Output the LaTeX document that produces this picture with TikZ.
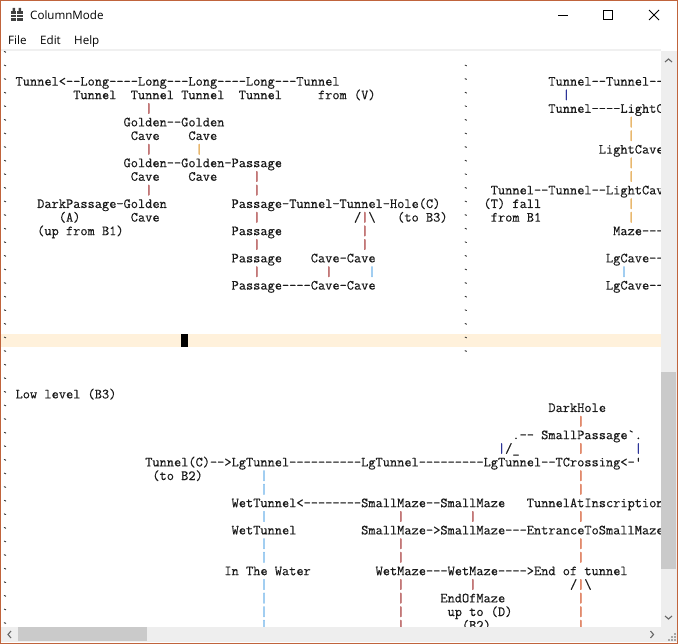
\documentclass[tikz,border=0pt]{standalone}
\usepackage{fontspec}
\newfontfamily\uifont{Open Sans}
\newfontfamily\codefont{Latin Modern Mono}[FakeBold=0.3]
\usetikzlibrary{positioning}
\definecolor{frame}{HTML}{C0643C}
\definecolor{barbg}{HTML}{EEEEEE}
\definecolor{thumb}{HTML}{CACACA}
\definecolor{curline}{HTML}{FFF1DB}
\definecolor{inkdark}{HTML}{1A1A1A}
\definecolor{barred}{HTML}{A83C3C}
\definecolor{barorange}{HTML}{E09A30}
\definecolor{barcoral}{HTML}{D5582E}
\definecolor{barblue}{HTML}{2C90E0}
\definecolor{barnavy}{HTML}{2C3498}
\tikzstyle{txt} = [anchor=base west, inner sep=0pt, outer sep=0pt, text=inkdark, font=\codefont\fontsize{13.98}{13.6}\selectfont]
\tikzstyle{bar} = [txt]
\tikzstyle{tick} = [txt, text=black!80, xshift=1.2pt, yshift=1pt, font=\codefont\fontsize{10}{13.6}\selectfont]
\tikzstyle{menu} = [anchor=base west, inner sep=0pt, text=black, font=\uifont\fontsize{11.6}{14}\selectfont]
\begin{document}
\begin{tikzpicture}
    \useasboundingbox (0pt,0pt) rectangle (678pt,-644pt);
    \fill[white] (0pt,0pt) rectangle (678pt,-644pt);

    % Title bar and menu
    \node (title) [menu] at (30pt,-20pt) {ColumnMode};
    \node (mfile) [menu] at (8pt,-45pt) {File};
    \node (medit) [menu] at (40pt,-45pt) {Edit};
    \node (mhelp) [menu] at (74pt,-45pt) {Help};
    \fill[black!75] (11pt,-11pt) rectangle (22.5pt,-21pt);
    \fill[black!75] (12.5pt,-8pt) rectangle (15pt,-11pt) (18.5pt,-8pt) rectangle (21pt,-11pt);
    \draw[white, line width=0.8pt] (11pt,-14pt) -- (22.5pt,-14pt) (11pt,-17.5pt) -- (22.5pt,-17.5pt) (16.7pt,-11pt) -- (16.7pt,-21pt);
    \draw[black, line width=0.9pt] (558pt,-15pt) -- (568pt,-15pt);
    \draw[black, line width=0.9pt] (603.5pt,-10.5pt) rectangle (612.5pt,-19.5pt);
    \draw[black, line width=0.9pt] (649pt,-10pt) -- (659pt,-20pt) (659pt,-10pt) -- (649pt,-20pt);
    \fill[black!6] (1pt,-49pt) rectangle (661pt,-51pt);

    % Text area
    \begin{scope}
    \clip (1pt,-51pt) rectangle (661pt,-627pt);
    \fill[curline] (1pt,-333.8pt) rectangle (661pt,-347.4pt);
    \fill[black] (181pt,-333.8pt) rectangle (188pt,-347.4pt);
    \begin{scope}[shift={(15.6pt,-85.6pt)}, x=7.2pt, y=-13.6pt]

    % Margin ticks
    \foreach \r in {-2,...,40}
        \node (left\r) [tick] at (-2,\r) {`};
    \foreach \r in {-1,...,20}
        \node (split\r) [tick] at (62,\r) {`};

    % Left pane
    \node (a1) [txt] at (0,0) {Tunnel<--Long----Long---Long----Long---Tunnel};
    \node (a2) [txt] at (8,1) {Tunnel};
    \node (a3) [txt] at (16,1) {Tunnel};
    \node (a4) [txt] at (23,1) {Tunnel};
    \node (a5) [txt] at (31,1) {Tunnel};
    \node (a6) [txt] at (42,1) {from (V)};
    \node (b1) [txt] at (15,3) {Golden--Golden};
    \node (b2) [txt] at (16,4) {Cave};
    \node (b3) [txt] at (24,4) {Cave};
    \node (b4) [txt] at (15,6) {Golden--Golden-Passage};
    \node (b5) [txt] at (16,7) {Cave};
    \node (b6) [txt] at (24,7) {Cave};
    \node (c1) [txt] at (3,9) {DarkPassage-Golden};
    \node (c2) [txt] at (30,9) {Passage-Tunnel-Tunnel-Hole(C)};
    \node (c3) [txt] at (6,10) {(A)};
    \node (c4) [txt] at (16,10) {Cave};
    \node (c5) [txt] at (47,10) {/};
    \node (c6) [txt] at (49,10) {\textbackslash};
    \node (c7) [txt] at (53,10) {(to B3)};
    \node (c8) [txt] at (3,11) {(up from B1)};
    \node (c9) [txt] at (30,11) {Passage};
    \node (d1) [txt] at (30,13) {Passage};
    \node (d2) [txt] at (41,13) {Cave-Cave};
    \node (d3) [txt] at (30,15) {Passage----Cave-Cave};

    % Right pane
    \node (e1) [txt] at (74,0) {Tunnel--Tunnel--};
    \node (e2) [txt] at (74,2) {Tunnel----LightCave};
    \node (e3) [txt] at (81,5) {LightCave};
    \node (e4) [txt] at (66,8) {Tunnel--Tunnel--LightCave};
    \node (e5) [txt] at (65,9) {(T) fall};
    \node (e6) [txt] at (66,10) {from B1};
    \node (e7) [txt] at (83,11) {Maze---};
    \node (e8) [txt] at (82,13) {LgCave--};
    \node (e9) [txt] at (82,15) {LgCave--};

    % Low level
    \node (f1) [txt] at (0,23) {Low level (B3)};
    \node (f2) [txt] at (74,24) {DarkHole};
    \node (f3) [txt] at (69,26) {.-- SmallPassage`.};
    \node (f4) [txt] at (68,27) {/\_};
    \node (g1) [txt] at (18,28) {Tunnel(C)-->LgTunnel----------LgTunnel---------LgTunnel--TCrossing<-'};
    \node (g2) [txt] at (19,29) {(to B2)};
    \node (h1) [txt] at (30,31) {WetTunnel<--------SmallMaze--SmallMaze};
    \node (h2) [txt] at (71,31) {TunnelAtInscription};
    \node (h3) [txt] at (30,33) {WetTunnel};
    \node (h4) [txt] at (48,33) {SmallMaze->SmallMaze---EntranceToSmallMaze};
    \node (i1) [txt] at (29,36) {In The Water};
    \node (i2) [txt] at (50,36) {WetMaze---WetMaze---->End of tunnel};
    \node (i3) [txt] at (77,37) {/};
    \node (i4) [txt] at (79,37) {\textbackslash};
    \node (i5) [txt] at (59,38) {EndOfMaze};
    \node (i6) [txt] at (60,39) {up to (D)};
    \node (i7) [txt] at (62,40) {(B2)};

    % Vertical links
    \foreach \c/\r in {18/2,18/5,18/8,33/7,33/8,33/10,33/12,33/14,43/14,48/10,48/11,48/12,53/32,53/34,53/35,53/37,53/38,53/39,53/40,63/32,63/37}
        \node (red\c-\r) [bar, text=barred] at (\c,\r) {|};
    \foreach \c/\r in {25/5,85/3,85/4,85/6,85/7,85/9,85/10}
        \node (org\c-\r) [bar, text=barorange] at (\c,\r) {|};
    \foreach \r in {25,27,29,30,32,34,35,37,38,39,40}
        \node (cor\r) [bar, text=barcoral] at (78,\r) {|};
    \foreach \c/\r in {49/14,84/14,34/29,34/30,34/32,34/34,34/35,34/37,34/38,34/39,34/40}
        \node (blu\c-\r) [bar, text=barblue] at (\c,\r) {|};
    \foreach \c/\r in {76/1,67/27,86/27}
        \node (nav\c-\r) [bar, text=barnavy] at (\c,\r) {|};
    \end{scope}
    \end{scope}

    % Scroll bars
    \fill[barbg] (661pt,-51pt) rectangle (677pt,-642pt);
    \fill[barbg] (1pt,-627pt) rectangle (677pt,-642pt);
    \fill[thumb] (661pt,-372pt) rectangle (676pt,-569pt);
    \fill[thumb] (18pt,-627pt) rectangle (147pt,-641pt);
    \draw[black!60, line width=1.1pt] (665pt,-62pt) -- (668.5pt,-59pt) -- (672pt,-62pt);
    \draw[black!60, line width=1.1pt] (665pt,-616pt) -- (668.5pt,-619pt) -- (672pt,-616pt);
    \draw[black!60, line width=1.1pt] (11pt,-631pt) -- (8pt,-634.5pt) -- (11pt,-638pt);
    \draw[black!60, line width=1.1pt] (650.5pt,-631pt) -- (653.5pt,-634.5pt) -- (650.5pt,-638pt);
    \foreach \p/\q in {674/636,674/639,671/639,674/633,671/636,668/639}
        \fill[black!35] (\p pt,-\q pt) rectangle ++(1.5pt,-1.5pt);

    % Window frame
    \draw[frame, line width=1.4pt] (0.7pt,-0.7pt) rectangle (677.3pt,-643.3pt);
\end{tikzpicture}
\end{document}
